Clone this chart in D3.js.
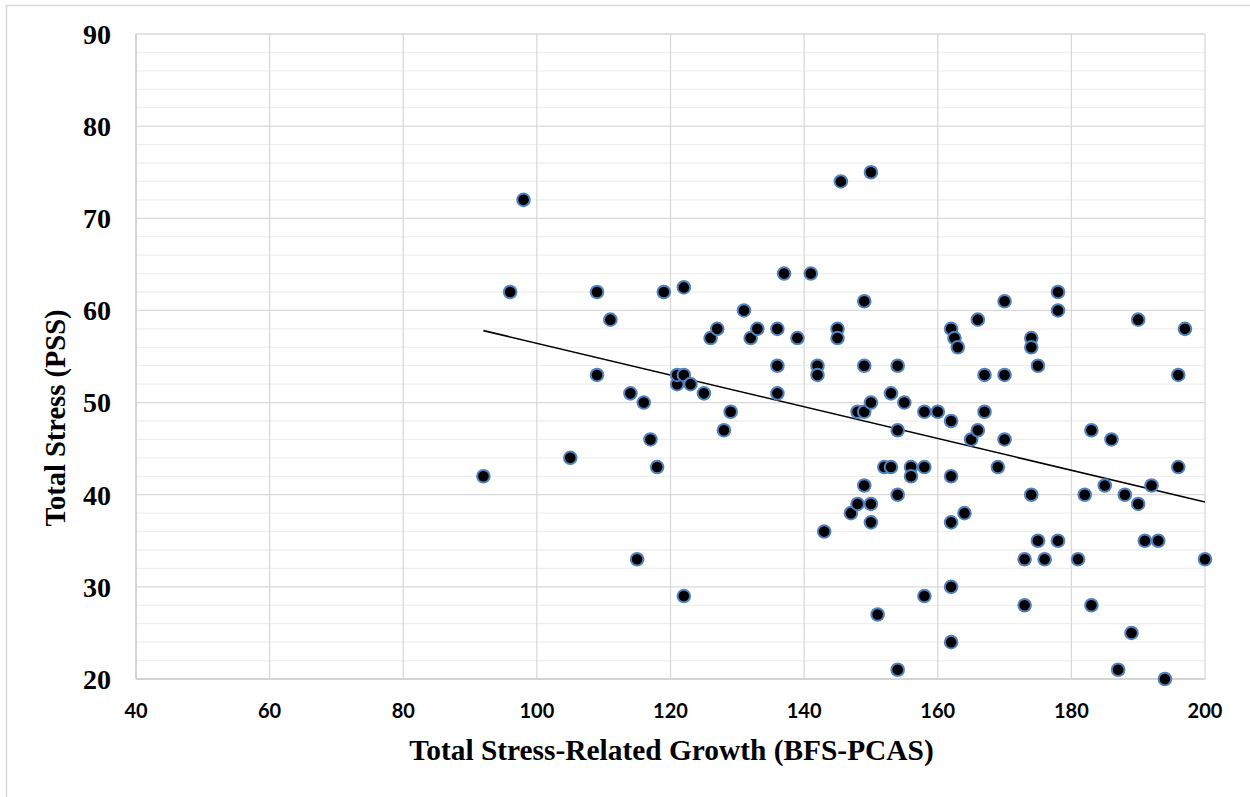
<!DOCTYPE html>
<html>
<head>
<meta charset="utf-8">
<script src="https://cdn.jsdelivr.net/npm/d3@7/dist/d3.min.js"></script>
<style>
  html, body { margin: 0; padding: 0; background: #ffffff; }
  svg { display: block; }
</style>
</head>
<body>
<svg id="chart" width="1250" height="797"></svg>
<script>
// ---- data ----
const growth = [92, 96, 98, 105, 109, 109, 111, 114, 115, 116, 117, 118, 119, 121, 121, 122, 122, 122, 123, 125,
  126, 127, 128, 129, 131, 132, 133, 136, 136, 136, 137, 139, 141, 142, 142, 143, 145, 145, 145.5, 147,
  148, 148, 149, 149, 149, 149, 150, 150, 150, 150, 151, 152, 153, 153, 154, 154, 154, 154, 155, 156,
  156, 158, 158, 158, 160, 162, 162.5, 163, 162, 162, 162, 162, 162, 164, 165, 166, 166, 167, 167, 169,
  170, 170, 170, 173, 173, 174, 174, 174, 175, 175, 176, 178, 178, 178, 181, 182, 183, 183, 185, 186,
  187, 188, 189, 190, 190, 191, 192, 193, 194, 196, 196, 197, 200];
const stress = [42, 62, 72, 44, 62, 53, 59, 51, 33, 50, 46, 43, 62, 52, 53, 53, 62.5, 29, 52, 51,
  57, 58, 47, 49, 60, 57, 58, 58, 54, 51, 64, 57, 64, 54, 53, 36, 58, 57, 74, 38,
  49, 39, 49, 61, 54, 41, 50, 75, 39, 37, 27, 43, 51, 43, 54, 47, 40, 21, 50, 43,
  42, 49, 43, 29, 49, 58, 57, 56, 48, 42, 37, 30, 24, 38, 46, 59, 47, 53, 49, 43,
  61, 53, 46, 33, 28, 57, 56, 40, 54, 35, 33, 62, 60, 35, 33, 40, 47, 28, 41, 46,
  21, 40, 25, 59, 39, 35, 41, 35, 20, 53, 43, 58, 33];
const xTicks = [40, 60, 80, 100, 120, 140, 160, 180, 200];
const yTicks = [20, 30, 40, 50, 60, 70, 80, 90];
const yMinorTicks = d3.range(20, 91, 2);
const xTitle = "Total Stress-Related Growth (BFS-PCAS)";
const yTitle = "Total Stress (PSS)";

// ---- layout ----
const svg = d3.select("#chart");
const plot = { left: 136, right: 1205, top: 34, bottom: 679 };
const x = d3.scaleLinear().domain([40, 200]).range([plot.left, plot.right]);
const y = d3.scaleLinear().domain([20, 90]).range([plot.bottom, plot.top]);

// outer chart border (only top and left visible in frame)
svg.append("rect")
  .attr("x", 6.5).attr("y", 5.5).attr("width", 1300).attr("height", 900)
  .attr("fill", "none").attr("stroke", "#d9d9d9").attr("stroke-width", 1.5);

// minor horizontal gridlines
svg.append("g").selectAll("line").data(yMinorTicks.filter(v => v % 10 !== 0)).join("line")
  .attr("x1", plot.left).attr("x2", plot.right)
  .attr("y1", d => y(d)).attr("y2", d => y(d))
  .attr("stroke", "#efefef").attr("stroke-width", 1.3);

// major horizontal gridlines
svg.append("g").selectAll("line").data(yTicks).join("line")
  .attr("x1", plot.left).attr("x2", plot.right)
  .attr("y1", d => y(d)).attr("y2", d => y(d))
  .attr("stroke", "#d9d9d9").attr("stroke-width", 1.3);

// vertical gridlines
svg.append("g").selectAll("line").data(xTicks).join("line")
  .attr("x1", d => x(d)).attr("x2", d => x(d))
  .attr("y1", plot.top).attr("y2", plot.bottom)
  .attr("stroke", "#d9d9d9").attr("stroke-width", 1.3);

// axes lines (left & bottom)
svg.append("line").attr("x1", plot.left).attr("x2", plot.left).attr("y1", plot.top).attr("y2", plot.bottom)
  .attr("stroke", "#cfcfcf").attr("stroke-width", 1.6);
svg.append("line").attr("x1", plot.left).attr("x2", plot.right).attr("y1", plot.bottom).attr("y2", plot.bottom)
  .attr("stroke", "#cfcfcf").attr("stroke-width", 1.6);

// y tick labels
svg.append("g").selectAll("text").data(yTicks).join("text")
  .attr("x", 111).attr("y", d => y(d))
  .attr("dy", "0.35em")
  .attr("text-anchor", "end")
  .attr("font-family", "'Liberation Serif', 'Times New Roman', serif")
  .attr("font-weight", "bold").attr("font-size", 28)
  .attr("fill", "#000")
  .text(d => d);

// x tick labels
svg.append("g").selectAll("text").data(xTicks).join("text")
  .attr("x", d => x(d)).attr("y", 711)
  .attr("dy", "0.35em")
  .attr("text-anchor", "middle")
  .attr("font-family", "Lato, 'Open Sans', sans-serif")
  .attr("font-weight", "bold").attr("font-size", 20)
  .attr("fill", "#000")
  .text(d => d);

// axis titles
svg.append("text")
  .attr("x", (plot.left + plot.right) / 2 + 1).attr("y", 760)
  .attr("text-anchor", "middle")
  .attr("font-family", "'Liberation Serif', 'Times New Roman', serif")
  .attr("font-weight", "bold").attr("font-size", 29.4)
  .attr("fill", "#000")
  .text(xTitle);

svg.append("text")
  .attr("transform", "translate(65,418) rotate(-90)")
  .attr("text-anchor", "middle")
  .attr("font-family", "'Liberation Serif', 'Times New Roman', serif")
  .attr("font-weight", "bold").attr("font-size", 28.5)
  .attr("fill", "#000")
  .text(yTitle);

// linear trendline (least squares from the data)
const pts = growth.map((g, i) => ({ gx: g, sy: stress[i] }));
const mx = d3.mean(pts, d => d.gx), my = d3.mean(pts, d => d.sy);
const slope = d3.sum(pts, d => (d.gx - mx) * (d.sy - my)) / d3.sum(pts, d => (d.gx - mx) ** 2);
const icpt = my - slope * mx;
const [xmin, xmax] = d3.extent(growth);
svg.append("line")
  .attr("x1", x(xmin)).attr("y1", y(icpt + slope * xmin))
  .attr("x2", x(xmax)).attr("y2", y(icpt + slope * xmax))
  .attr("stroke", "#000").attr("stroke-width", 1.6);

// points
svg.append("g").selectAll("circle").data(pts).join("circle")
  .attr("cx", d => x(d.gx)).attr("cy", d => y(d.sy))
  .attr("r", 6.3)
  .attr("fill", "#000")
  .attr("stroke", "#5282c0").attr("stroke-width", 2);
</script>
</body>
</html>
